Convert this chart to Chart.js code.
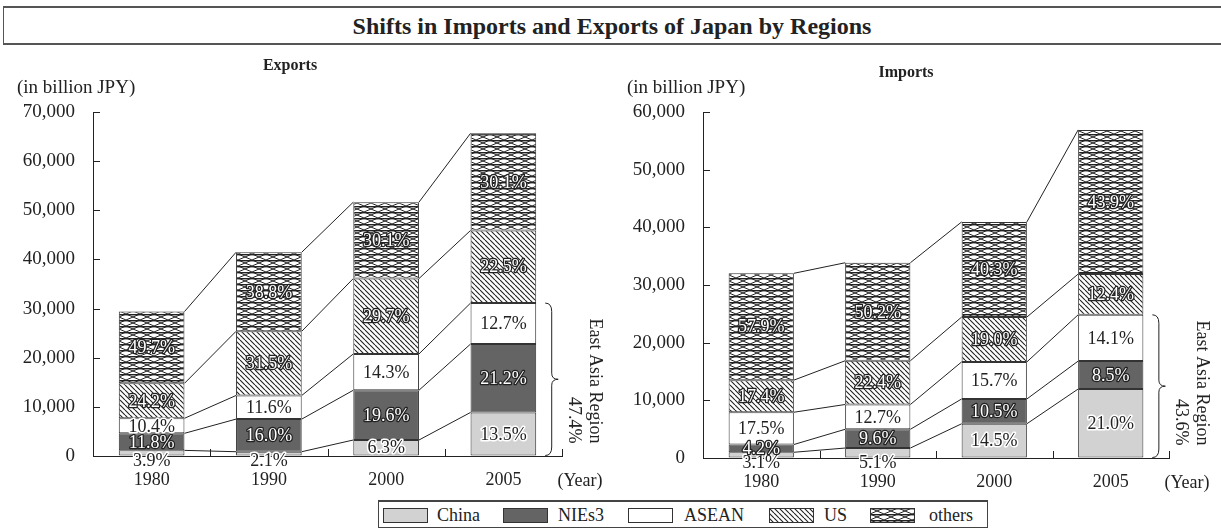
<!DOCTYPE html>
<html>
<head>
<meta charset="utf-8">
<script src="https://cdn.jsdelivr.net/npm/chart.js@4"></script>
<style>
  body { margin: 0; width: 1221px; height: 532px; background: #fff; position: relative; overflow: hidden; font-family: "Liberation Serif", serif; color: #222; }
  #title { position: absolute; left: 3px; top: 6px; width: 1230px; height: 35px; border-top: 2px solid #555; border-bottom: 2px solid #555; border-left: 1px solid #555; }
  #title div { position: absolute; left: 0; width: 1216px; top: 0; line-height: 36px; text-align: center; font-weight: bold; font-size: 24px; }
  canvas.chart { position: absolute; top: 50px; }
  #legend { position: absolute; left: 378px; top: 500px; width: 610px; height: 28px; border: 1px solid #444; border-top-width: 2px; box-sizing: border-box; }
  #legend canvas { position: absolute; top: 6px; }
  #legend span { position: absolute; top: 3px; font-size: 18px; line-height: 20px; }
</style>
</head>
<body>
<div id="title"><div>Shifts in Imports and Exports of Japan by Regions</div></div>
<canvas id="exportsChart" class="chart" width="610" height="445" style="left:0px"></canvas>
<canvas id="importsChart" class="chart" width="611" height="445" style="left:610px"></canvas>
<div id="legend"></div>

<script>
const years = ['1980', '1990', '2000', '2005'];
const regions = ['China', 'NIEs3', 'ASEAN', 'US', 'others'];

// exports, billion JPY
const exportsChina = [1146, 871, 3254, 8864];
const exportsNies = [3467, 6633, 10124, 13919];
const exportsAsean = [3056, 4809, 7387, 8338];
const exportsUs = [7110, 13059, 15341, 14773];
const exportsOthers = [14603, 16085, 15548, 19763];

// imports, billion JPY
const importsChina = [992, 1727, 5936, 11959];
const importsNies = [1344, 3250, 4298, 4841];
const importsAsean = [5599, 4300, 6427, 8030];
const importsUs = [5567, 7584, 7778, 7062];
const importsOthers = [18525, 16995, 16498, 25001];

// shares shown on the bars
const exportsChinaPct = ['3.9%', '2.1%', '6.3%', '13.5%'];
const exportsNiesPct = ['11.8%', '16.0%', '19.6%', '21.2%'];
const exportsAseanPct = ['10.4%', '11.6%', '14.3%', '12.7%'];
const exportsUsPct = ['24.2%', '31.5%', '29.7%', '22.5%'];
const exportsOthersPct = ['49.7%', '38.8%', '30.1%', '30.1%'];

const importsChinaPct = ['3.1%', '5.1%', '14.5%', '21.0%'];
const importsNiesPct = ['4.2%', '9.6%', '10.5%', '8.5%'];
const importsAseanPct = ['17.5%', '12.7%', '15.7%', '14.1%'];
const importsUsPct = ['17.4%', '22.4%', '19.0%', '12.4%'];
const importsOthersPct = ['57.9%', '50.2%', '40.3%', '43.9%'];

const exportsEastAsia = '47.4%';
const importsEastAsia = '43.6%';

const FONT = '"Liberation Serif", serif';

function makePattern(kind) {
    const c = document.createElement('canvas');
    const x = c.getContext('2d');
    if (kind === 'us') {
        c.width = 5; c.height = 5;
        x.fillStyle = '#fff';
        x.fillRect(0, 0, 5, 5);
        x.strokeStyle = '#222';
        x.lineWidth = 1.1;
        x.beginPath();
        [-5, 0, 5].forEach(k => { x.moveTo(k, 0); x.lineTo(k + 5, 5); });
        x.stroke();
    } else {
        c.width = 14; c.height = 6;
        x.fillStyle = '#fff';
        x.fillRect(0, 0, 14, 6);
        x.strokeStyle = '#222';
        x.lineWidth = 1;
        x.beginPath();
        x.moveTo(0, 0); x.lineTo(14, 6);
        x.moveTo(0, 6); x.lineTo(14, 0);
        x.stroke();
        x.fillStyle = '#222';
        x.fillRect(0, 0, 14, 1.4);
    }
    return x.createPattern(c, 'repeat');
}

const fills = ['rgb(210,210,210)', 'rgb(100,100,100)', '#ffffff', makePattern('us'), makePattern('others')];

const decor = {
    id: 'decor',
    afterDatasetsDraw(chart) {
        const ctx = chart.ctx;
        const area = chart.chartArea;
        const ys = chart.scales.y;
        const extra = chart.options.plugins.decor;
        const n = chart.data.labels.length;
        ctx.save();

        // connecting lines between bars
        ctx.strokeStyle = '#222';
        ctx.lineWidth = 1;
        chart.data.datasets.forEach((ds, d) => {
            const els = chart.getDatasetMeta(d).data;
            for (let i = 0; i < els.length - 1; i++) {
                const a = els[i].getProps(['x', 'y', 'width'], true);
                const b = els[i + 1].getProps(['x', 'y', 'width'], true);
                ctx.beginPath();
                ctx.moveTo(a.x + a.width / 2, a.y);
                ctx.lineTo(b.x - b.width / 2, b.y);
                ctx.stroke();
            }
        });

        // inward ticks
        ys.ticks.forEach(t => {
            const y = Math.round(ys.getPixelForValue(t.value)) + 0.5;
            ctx.beginPath();
            ctx.moveTo(area.left, y);
            ctx.lineTo(area.left + 7, y);
            ctx.stroke();
        });
        for (let i = 1; i <= n; i++) {
            const x = Math.round(area.left + i * (area.right - area.left) / n) + 0.5;
            ctx.beginPath();
            ctx.moveTo(x, area.bottom);
            ctx.lineTo(x, area.bottom - 7);
            ctx.stroke();
        }

        // percentage labels
        ctx.font = '18px ' + FONT;
        ctx.textAlign = 'center';
        ctx.textBaseline = 'middle';
        ctx.lineJoin = 'round';
        chart.data.datasets.forEach((ds, d) => {
            chart.getDatasetMeta(d).data.forEach((el, i) => {
                const p = el.getProps(['x', 'y', 'base'], true);
                let cy = (p.y + p.base) / 2;
                if (d === 0 && p.base - p.y < 12) cy = p.base + 5;
                const txt = ds.pct[i];
                if (d === 0 || d === 2) {
                    ctx.strokeStyle = '#fff';
                    ctx.lineWidth = 3;
                    ctx.strokeText(txt, p.x, cy + 1);
                    ctx.fillStyle = '#222';
                    ctx.fillText(txt, p.x, cy + 1);
                } else {
                    ctx.strokeStyle = '#222';
                    ctx.lineWidth = 2.5;
                    ctx.strokeText(txt, p.x, cy + 1);
                    ctx.fillStyle = '#fff';
                    ctx.fillText(txt, p.x, cy + 1);
                }
            });
        });

        // East Asia brace on the last bar
        const last = n - 1;
        const top = chart.getDatasetMeta(2).data[last].getProps(['y'], true).y;
        const lb = chart.getDatasetMeta(0).data[last].getProps(['x', 'width', 'base'], true);
        const bx = lb.x + lb.width / 2 + 9;
        const bottom = lb.base;
        const w = 13;
        const mid = (top + bottom) / 2;
        ctx.strokeStyle = '#222';
        ctx.lineWidth = 1;
        ctx.beginPath();
        ctx.moveTo(bx, top);
        ctx.quadraticCurveTo(bx + w / 2, top, bx + w / 2, top + w / 2 + 2);
        ctx.lineTo(bx + w / 2, mid - 6);
        ctx.quadraticCurveTo(bx + w / 2, mid, bx + w, mid);
        ctx.quadraticCurveTo(bx + w / 2, mid, bx + w / 2, mid + 6);
        ctx.lineTo(bx + w / 2, bottom - w / 2 - 2);
        ctx.quadraticCurveTo(bx + w / 2, bottom, bx, bottom);
        ctx.stroke();

        ctx.fillStyle = '#222';
        ctx.font = '18px ' + FONT;
        ctx.textAlign = 'right';
        ctx.textBaseline = 'middle';
        [['East Asia Region', 33], [extra.eastAsia, 12]].forEach(([t, dx]) => {
            ctx.save();
            ctx.translate(area.right + dx, bottom - 12);
            ctx.rotate(Math.PI / 2);
            ctx.fillText(t, 0, 0);
            ctx.restore();
        });

        // axis notes and heading
        ctx.font = '19px ' + FONT;
        ctx.textAlign = 'left';
        ctx.fillText('(in billion JPY)', area.left - 76, area.top - 24);
        ctx.font = '18px ' + FONT;
        ctx.textAlign = 'center';
        ctx.fillText('(Year)', area.right + 18, area.bottom + 25);
        ctx.font = 'bold 16px ' + FONT;
        ctx.fillText(extra.heading, extra.headX, extra.headY);

        ctx.restore();
    }
};

function makeChart(id, series, pcts, yMax, extra) {
    const ctx = document.getElementById(id).getContext('2d');
    return new Chart(ctx, {
        type: 'bar',
        data: {
            labels: years,
            datasets: regions.map((r, i) => ({
                label: r,
                data: series[i],
                pct: pcts[i],
                backgroundColor: fills[i],
                borderColor: '#333',
                borderWidth: 1,
                borderSkipped: false,
                barPercentage: 0.56,
                categoryPercentage: 1
            }))
        },
        options: {
            responsive: false,
            animation: false,
            devicePixelRatio: 1,
            layout: { padding: { top: 62, right: extra.padRight, left: 0, bottom: 0 } },
            plugins: {
                legend: { display: false },
                tooltip: { enabled: false },
                decor: extra
            },
            scales: {
                x: {
                    stacked: true,
                    grid: { display: true, drawOnChartArea: false, drawTicks: false },
                    border: { display: true, color: '#222', width: 1 },
                    ticks: { color: '#222', font: { family: FONT, size: 18 }, padding: 13, maxRotation: 0 },
                    afterFit: s => { s.height = extra.xHeight; }
                },
                y: {
                    stacked: true,
                    min: 0,
                    max: yMax,
                    grid: { display: true, drawOnChartArea: false, drawTicks: false },
                    border: { display: true, color: '#222', width: 1 },
                    ticks: {
                        stepSize: 10000,
                        color: '#222',
                        padding: 18,
                        font: { family: FONT, size: 19 },
                        callback: v => v.toLocaleString('en-US')
                    },
                    afterFit: s => { s.width = 93; }
                }
            }
        },
        plugins: [decor]
    });
}

makeChart('exportsChart',
    [exportsChina, exportsNies, exportsAsean, exportsUs, exportsOthers],
    [exportsChinaPct, exportsNiesPct, exportsAseanPct, exportsUsPct, exportsOthersPct],
    70000,
    { heading: 'Exports', headX: 290, headY: 16, eastAsia: exportsEastAsia, padRight: 48, xHeight: 39 });

makeChart('importsChart',
    [importsChina, importsNies, importsAsean, importsUs, importsOthers],
    [importsChinaPct, importsNiesPct, importsAseanPct, importsUsPct, importsOthersPct],
    60000,
    { heading: 'Imports', headX: 296, headY: 23, eastAsia: importsEastAsia, padRight: 52, xHeight: 37 });

// legend
const legend = document.getElementById('legend');
const swatchX = [4, 124, 249, 390, 491];
const textX = [58, 179, 305, 445, 550];
regions.forEach((r, i) => {
    const c = document.createElement('canvas');
    c.width = 45; c.height = 15;
    c.style.left = swatchX[i] + 'px';
    const x = c.getContext('2d');
    x.fillStyle = i >= 3 ? makePattern(i === 3 ? 'us' : 'others') : fills[i];
    x.fillRect(0, 0, 45, 15);
    x.strokeStyle = '#333';
    x.lineWidth = 1;
    x.strokeRect(0.5, 0.5, 44, 14);
    legend.appendChild(c);
    const s = document.createElement('span');
    s.textContent = r;
    s.style.left = textX[i] + 'px';
    legend.appendChild(s);
});
</script>
</body>
</html>
